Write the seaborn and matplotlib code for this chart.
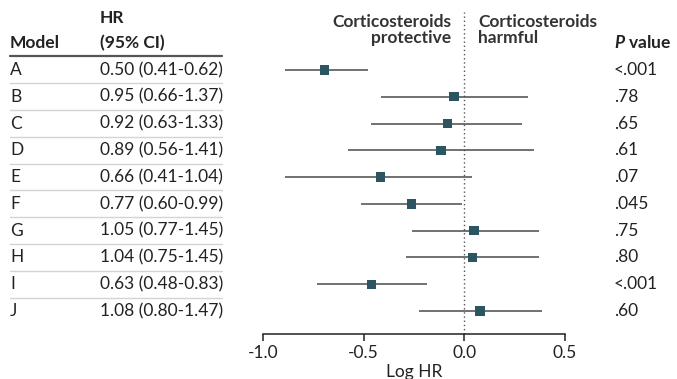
import numpy as np
import pandas as pd
import matplotlib.pyplot as plt
import matplotlib.transforms as mtransforms
import seaborn as sns

models = ["A", "B", "C", "D", "E", "F", "G", "H", "I", "J"]
hr = [0.50, 0.95, 0.92, 0.89, 0.66, 0.77, 1.05, 1.04, 0.63, 1.08]
ci_low = [0.41, 0.66, 0.63, 0.56, 0.41, 0.60, 0.77, 0.75, 0.48, 0.80]
ci_high = [0.62, 1.37, 1.33, 1.41, 1.04, 0.99, 1.45, 1.45, 0.83, 1.47]
p_values = ["<.001", ".78", ".65", ".61", ".07", ".045", ".75", ".80", "<.001", ".60"]
x_ticks = [-1.0, -0.5, 0.0, 0.5]

df = pd.DataFrame({"model": models, "hr": hr, "lo": ci_low, "hi": ci_high, "p": p_values})
df["row"] = np.arange(len(df))
df["log_hr"] = np.log(df["hr"])
df["log_lo"] = np.log(df["lo"])
df["log_hi"] = np.log(df["hi"])

sns.set_theme(style="white")
plt.rcParams["font.family"] = ["Lato", "DejaVu Sans"]
plt.rcParams["mathtext.fontset"] = "custom"
plt.rcParams["mathtext.it"] = "Lato:italic:bold"

W, H = 677, 379
fig = plt.figure(figsize=(W / 100, H / 100), dpi=100)
ax = fig.add_axes([263 / W, 1 - 334 / H, (565 - 263) / W, (334 - 12) / H])

fs = 12.5
text_col = "#222222"
head_w = "bold"
marker_col = "#2c5562"

# CI whiskers
ax.hlines(df["row"], df["log_lo"], df["log_hi"], color="#4a4a4a", lw=1.1, zorder=2)
sns.scatterplot(data=df, x="log_hr", y="row", marker="s", s=46, color=marker_col,
                edgecolor="none", ax=ax, zorder=3, legend=False)
ax.axvline(0, color="#555555", lw=1, ls=(0, (1, 2)), zorder=1)

ax.set_xlim(-1.0, 0.5)
ax.set_ylim(9 + 23 / 26.8, -58 / 26.8)
ax.set_xticks(x_ticks)
ax.set_xticklabels([f"{t:.1f}" for t in x_ticks], fontsize=fs, color=text_col)
ax.set_yticks([])
ax.set_ylabel("")
ax.set_xlabel("Log HR", fontsize=fs, color=text_col, labelpad=2)
for s in ["left", "right", "top"]:
    ax.spines[s].set_visible(False)
ax.spines["bottom"].set_color("#222222")
ax.spines["bottom"].set_linewidth(1.1)
ax.tick_params(axis="x", direction="out", length=5, width=1.1, color="#222222", pad=3,
               bottom=True)

# left table and p-value column
trans = mtransforms.blended_transform_factory(fig.transFigure, ax.transData)
for _, r in df.iterrows():
    ax.text(10 / W, r["row"], r["model"], transform=trans, ha="left", va="center",
            fontsize=fs, color=text_col, clip_on=False)
    ax.text(100 / W, r["row"], f"{r['hr']:.2f} ({r['lo']:.2f}-{r['hi']:.2f})", transform=trans,
            ha="left", va="center", fontsize=fs, color=text_col, clip_on=False)
    ax.text(614 / W, r["row"], r["p"], transform=trans, ha="left", va="center",
            fontsize=fs, color=text_col, clip_on=False)
    if r["row"] < len(df) - 1:
        ax.plot([10 / W, 222 / W], [r["row"] + 0.5] * 2, transform=trans, color="#d4d4d4",
                lw=1, clip_on=False)

# header
ax.plot([10 / W, 222 / W], [-0.52] * 2, transform=trans, color="#555555", lw=1.6, clip_on=False)
fig.text(10 / W, 1 - 43 / H, "Model", ha="left", va="center", fontsize=fs,
         fontweight=head_w, color=text_col)
fig.text(100 / W, 1 - 18 / H, "HR", ha="left", va="center", fontsize=fs,
         fontweight=head_w, color=text_col)
fig.text(100 / W, 1 - 43 / H, "(95% CI)", ha="left", va="center", fontsize=fs,
         fontweight=head_w, color=text_col)
fig.text(451 / W, 1 - 30 / H, "Corticosteroids\nprotective", ha="right", va="center",
         fontsize=fs, fontweight=head_w, color="#333333", linespacing=1.05)
fig.text(478 / W, 1 - 30 / H, "Corticosteroids\nharmful", ha="left", va="center",
         fontsize=fs, fontweight=head_w, color="#333333", linespacing=1.05)
fig.text(614 / W, 1 - 43 / H, r"$\it{P}$ value", ha="left", va="center", fontsize=fs,
         fontweight=head_w, color=text_col)

fig.savefig("out.png", dpi=100)
